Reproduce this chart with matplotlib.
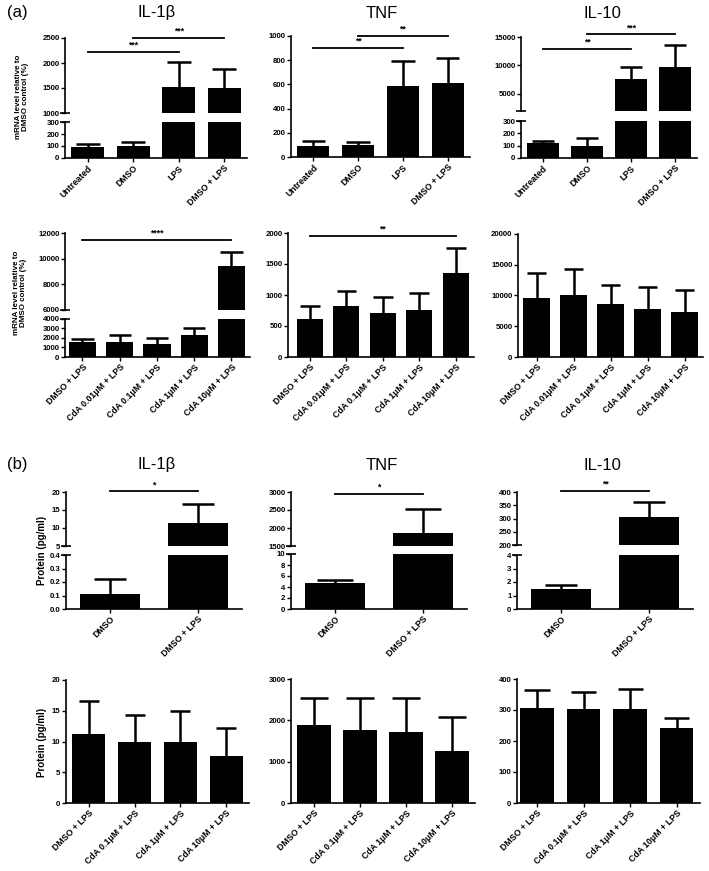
import matplotlib.pyplot as plt
import numpy as np

plt.rcParams['font.family'] = ['Liberation Sans', 'DejaVu Sans']
plt.rcParams['font.weight'] = 'bold'

W, H = 709, 871

# (a) mRNA, top row
groups_a1 = ['Untreated', 'DMSO', 'LPS', 'DMSO + LPS']
il1b_a1 = [95, 100, 1525, 1495]
il1b_a1_top = [115, 135, 2020, 1870]
tnf_a1 = [94, 102, 586, 608]
tnf_a1_top = [130, 124, 793, 820]
il10_a1 = [125, 100, 7600, 9750]
il10_a1_top = [135, 160, 9680, 13650]

# (a) mRNA, CdA row
groups_a2 = ['DMSO + LPS', 'CdA 0.01μM + LPS', 'CdA 0.1μM + LPS', 'CdA 1μM + LPS', 'CdA 10μM + LPS']
il1b_a2 = [1580, 1560, 1350, 2350, 9400]
il1b_a2_top = [1850, 2300, 2050, 3050, 10500]
tnf_a2 = [610, 820, 715, 755, 1360]
tnf_a2_top = [820, 1065, 960, 1025, 1755]
il10_a2 = [9670, 10160, 8640, 7880, 7390]
il10_a2_top = [13700, 14350, 11680, 11410, 10870]

# (b) protein, top row
groups_b1 = ['DMSO', 'DMSO + LPS']
il1b_b1 = [0.11, 11.3]
il1b_b1_top = [0.22, 16.7]
tnf_b1 = [4.7, 1870]
tnf_b1_top = [5.3, 2520]
il10_b1 = [1.5, 305]
il10_b1_top = [1.75, 362]

# (b) protein, CdA row
groups_b2 = ['DMSO + LPS', 'CdA 0.1μM + LPS', 'CdA 1μM + LPS', 'CdA 10μM + LPS']
il1b_b2 = [11.2, 10.0, 9.9, 7.7]
il1b_b2_top = [16.6, 14.3, 14.9, 12.2]
tnf_b2 = [1890, 1770, 1715, 1250]
tnf_b2_top = [2550, 2550, 2530, 2085]
il10_b2 = [307, 304, 304, 243]
il10_b2_top = [363, 359, 368, 274]

# significance bars (from, to, height, label)
sig_il1b_a1 = [(0, 2, 2220, '***'), (1, 3, 2500, '***')]
sig_tnf_a1 = [(0, 2, 900, '**'), (1, 3, 1000, '**')]
sig_il10_a1 = [(0, 2, 12900, '**'), (1, 3, 15500, '***')]
sig_il1b_a2 = [(0, 4, 11450, '****')]
sig_tnf_a2 = [(0, 4, 1950, '**')]
sig_il1b_b1 = [(0, 1, 20.2, '*')]
sig_tnf_b1 = [(0, 1, 2950, '*')]
sig_il10_b1 = [(0, 1, 405, '**')]

titles = ['IL-1β', 'TNF', 'IL-10']


def draw_panel(fig, x0, x1, pad, segs, groups, vals, tops, sig, bar_w, cap):
    n = len(groups)
    x = np.arange(n)
    axes = []
    for k, (ytop, ybot, lo, hi, ticks, fmt) in enumerate(segs):
        ax = fig.add_axes([x0 / W, 1 - ybot / H, (x1 - x0) / W, (ybot - ytop) / H])
        ax.bar(x, vals, bar_w, color='black')
        # upper error bar only, Prism style
        ax.vlines(x, vals, tops, color='black', lw=1.8)
        ax.hlines(tops, x - cap, x + cap, color='black', lw=1.8)
        ax.set_xlim(-pad, n - 0.5)
        ax.set_ylim(lo, hi)
        ax.set_yticks(ticks)
        ax.set_yticklabels([fmt % t for t in ticks])
        ax.spines['top'].set_visible(False)
        ax.spines['right'].set_visible(False)
        ax.spines['left'].set_linewidth(1.2)
        ax.spines['bottom'].set_linewidth(1.2)
        ax.tick_params(direction='out', length=3, width=1, labelsize=5.6, pad=1)
        if k < len(segs) - 1:
            ax.spines['bottom'].set_visible(False)
            ax.tick_params(axis='x', bottom=False, labelbottom=False)
            ax.plot([0], [0], marker='_', markersize=7, mew=1.2, color='black',
                    transform=ax.transAxes, clip_on=False)
        else:
            ax.set_xticks(x)
            ax.set_xticklabels(groups, rotation=45, ha='right', rotation_mode='anchor', fontsize=6.3)
        if k > 0:
            ax.plot([0], [1], marker='_', markersize=7, mew=1.2, color='black',
                    transform=ax.transAxes, clip_on=False)
        axes.append(ax)

    for i, j, y, label in sig:
        axes[0].plot([i, j], [y, y], color='black', lw=1.3, clip_on=False)
        axes[0].annotate(label, ((i + j) / 2, y), xytext=(0, 1.5), textcoords='offset points',
                         ha='center', va='bottom', fontsize=6.3, annotation_clip=False)
    return axes


fig = plt.figure(figsize=(W / 100, H / 100), dpi=100)

# (a) top row
draw_panel(fig, 65, 247, 0.5,
           [(38, 113, 1000, 2500, [1000, 1500, 2000, 2500], '%d'),
            (122, 158, 0, 300, [0, 100, 200, 300], '%d')],
           groups_a1, il1b_a1, il1b_a1_top, sig_il1b_a1, 0.72, 0.26)
draw_panel(fig, 291, 470, 0.5,
           [(36, 157, 0, 1000, [0, 200, 400, 600, 800, 1000], '%d')],
           groups_a1, tnf_a1, tnf_a1_top, sig_tnf_a1, 0.72, 0.26)
draw_panel(fig, 521, 697, 0.5,
           [(37, 111, 2000, 15000, [5000, 10000, 15000], '%d'),
            (121, 158, 0, 300, [0, 100, 200, 300], '%d')],
           groups_a1, il10_a1, il10_a1_top, sig_il10_a1, 0.74, 0.26)

# (a) CdA row
draw_panel(fig, 65, 250, 0.47,
           [(233, 310, 6000, 12000, [6000, 8000, 10000, 12000], '%d'),
            (319, 357, 0, 4000, [0, 1000, 2000, 3000, 4000], '%d')],
           groups_a2, il1b_a2, il1b_a2_top, sig_il1b_a2, 0.73, 0.3)
draw_panel(fig, 288, 474, 0.6,
           [(233, 357, 0, 2000, [0, 500, 1000, 1500, 2000], '%d')],
           groups_a2, tnf_a2, tnf_a2_top, sig_tnf_a2, 0.72, 0.27)
draw_panel(fig, 518, 703, 0.5,
           [(234, 357, 0, 20000, [0, 5000, 10000, 15000, 20000], '%d')],
           groups_a2, il10_a2, il10_a2_top, [], 0.72, 0.27)

# (b) top row
draw_panel(fig, 66, 242, 0.5,
           [(492, 546, 5, 20, [5, 10, 15, 20], '%d'),
            (555, 609, 0, 0.4, [0, 0.1, 0.2, 0.3, 0.4], '%.1f')],
           groups_b1, il1b_b1, il1b_b1_top, sig_il1b_b1, 0.68, 0.18)
draw_panel(fig, 291, 467, 0.5,
           [(492, 546, 1500, 3000, [1500, 2000, 2500, 3000], '%d'),
            (554, 609, 0, 10, [0, 2, 4, 6, 8, 10], '%d')],
           groups_b1, tnf_b1, tnf_b1_top, sig_tnf_b1, 0.68, 0.2)
draw_panel(fig, 517, 693, 0.5,
           [(492, 545, 200, 400, [200, 250, 300, 350, 400], '%d'),
            (555, 609, 0, 4, [0, 1, 2, 3, 4], '%d')],
           groups_b1, il10_b1, il10_b1_top, sig_il10_b1, 0.68, 0.18)

# (b) CdA row
draw_panel(fig, 66, 249, 0.5,
           [(680, 803, 0, 20, [0, 5, 10, 15, 20], '%d')],
           groups_b2, il1b_b2, il1b_b2_top, [], 0.72, 0.22)
draw_panel(fig, 291, 475, 0.5,
           [(679, 803, 0, 3000, [0, 1000, 2000, 3000], '%d')],
           groups_b2, tnf_b2, tnf_b2_top, [], 0.72, 0.3)
draw_panel(fig, 517, 700, 0.43,
           [(679, 803, 0, 400, [0, 100, 200, 300, 400], '%d')],
           groups_b2, il10_b2, il10_b2_top, [], 0.72, 0.27)

# titles and panel letters
for cx, t in zip([157, 382, 602], titles):
    fig.text(cx / W, 1 - 13 / H, t, ha='center', va='center', fontsize=12, fontweight='normal')
    fig.text(cx / W, 1 - 465 / H, t, ha='center', va='center', fontsize=12, fontweight='normal')
fig.text(7 / W, 1 - 13 / H, '(a)', ha='left', va='center', fontsize=12, fontweight='normal')
fig.text(7 / W, 1 - 465 / H, '(b)', ha='left', va='center', fontsize=12, fontweight='normal')

# y labels
mrna_label = 'mRNA level relative to\nDMSO control (%)'
fig.text(22 / W, 1 - 97 / H, mrna_label, rotation=90, ha='center', va='center',
         fontsize=5.8, multialignment='center', linespacing=1.1)
fig.text(20 / W, 1 - 293 / H, mrna_label, rotation=90, ha='center', va='center',
         fontsize=5.8, multialignment='center', linespacing=1.1)
fig.text(42 / W, 1 - 550 / H, 'Protein (pg/ml)', rotation=90, ha='center', va='center', fontsize=7)
fig.text(42 / W, 1 - 742 / H, 'Protein (pg/ml)', rotation=90, ha='center', va='center', fontsize=7)

fig.savefig('out.png', dpi=100)
